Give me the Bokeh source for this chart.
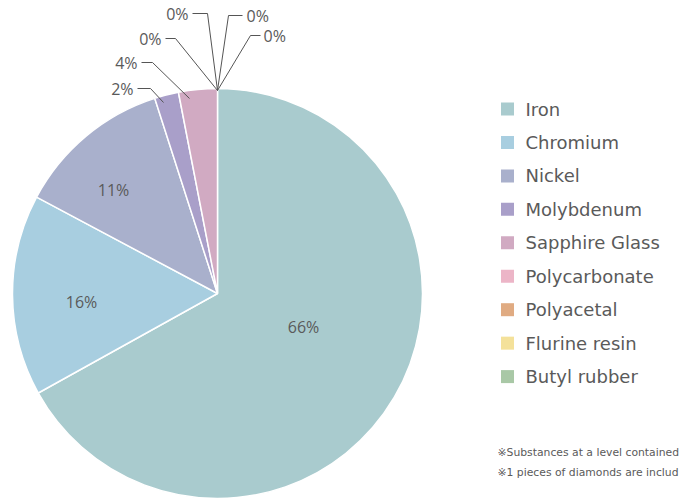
import math
from bokeh.plotting import figure
from bokeh.models import ColumnDataSource, Range1d
from bokeh.core.properties import value
from bokeh.embed import file_html
from bokeh.resources import INLINE

# ---- data ----
materials = ["Iron", "Chromium", "Nickel", "Molybdenum", "Sapphire Glass",
             "Polycarbonate", "Polyacetal", "Flurine resin", "Butyl rubber"]
shares = [66.9, 15.85, 12.25, 1.9, 3.05, 0.0, 0.0, 0.0, 0.0]
pct_labels = ["66%", "16%", "11%", "2%", "4%", "0%", "0%", "0%", "0%"]
colors = ["#a9cbce", "#a8cee0", "#a9b0cc", "#a99fc9", "#d1aac2",
          "#ecb5c7", "#e0ab82", "#f4e19a", "#a9c8a6"]
footnotes = ["\u203bSubstances at a level contained",
             "\u203b1 pieces of diamonds are includ"]

W, H = 679, 498
FONT = "Open Sans"
LFONT = "DejaVu Sans"
TXT = "#5a5a5a"

def X(px):
    return px

def Y(py):
    return H - py

p = figure(width=W, height=H, output_backend="svg", toolbar_location=None,
           x_range=Range1d(0, W), y_range=Range1d(0, H), min_border=0)
p.axis.visible = False
p.grid.visible = False
p.outline_line_color = None
p.background_fill_color = "white"

# ---- pie ----
cx, cy, r = X(217), Y(293), 205
total = sum(shares)
starts, ends, cols, names = [], [], [], []
acc = 0.0
for v, c, n in zip(shares, colors, materials):
    a0 = math.pi / 2 - 2 * math.pi * acc / total
    acc += v
    a1 = math.pi / 2 - 2 * math.pi * acc / total
    if v > 0:
        starts.append(a0)
        ends.append(a1)
        cols.append(c)
        names.append(n)

src = ColumnDataSource(dict(start=starts, end=ends, color=cols, name=names))
p.wedge(x=cx, y=cy, radius=r, start_angle="start", end_angle="end",
        direction="clock", fill_color="color", line_color="white",
        line_width=1.5, source=src)

# inside labels
inside_pos = [(303, 326), (81, 301), (113, 189)]
p.text(x=[X(a) for a, b in inside_pos], y=[Y(b) for a, b in inside_pos],
       text=pct_labels[:3], text_font=value(FONT), text_font_size="16px",
       text_color=TXT, text_align="center", text_baseline="middle")

# outside labels with leader lines
outside = [
    ((163, 102), (150, 88), (137, 88), 133, "right"),   # Molybdenum
    ((189, 98), (152, 62), (141, 62), 137, "right"),    # Sapphire
    ((217, 90), (175, 38), (165, 38), 161, "right"),
    ((217, 90), (207, 13), (192, 13), 188, "right"),
    ((217, 90), (228, 15), (242, 15), 246, "left"),
    ((217, 90), (250, 35), (260, 35), 263, "left"),
]
for i, (a, e, h, tx, al) in enumerate(outside):
    p.line([X(a[0]), X(e[0]), X(h[0])], [Y(a[1]), Y(e[1]), Y(h[1])],
           line_color="#555555", line_width=1)
    p.text(x=[X(tx)], y=[Y(h[1])], text=[pct_labels[3 + i]],
           text_font=value(FONT), text_font_size="16px", text_color=TXT,
           text_align=al, text_baseline="middle")

# ---- legend ----
ly0, dy = 108.5, 33.45
ly = [Y(ly0 + i * dy) for i in range(len(materials))]
p.rect(x=[X(507)] * len(materials), y=ly, width=13, height=13,
       fill_color=colors, line_color=None)
p.text(x=[X(525)] * len(materials), y=ly, text=materials,
       text_font=value(LFONT), text_font_size="18px", text_color=TXT,
       text_align="left", text_baseline="middle")

# ---- footnotes ----
p.text(x=[X(497)] * 2, y=[Y(452), Y(472)], text=footnotes,
       text_font=value(LFONT), text_font_size="10.8px", text_color=TXT,
       text_align="left", text_baseline="middle")

open("out.html", "w").write(file_html(p, INLINE))
